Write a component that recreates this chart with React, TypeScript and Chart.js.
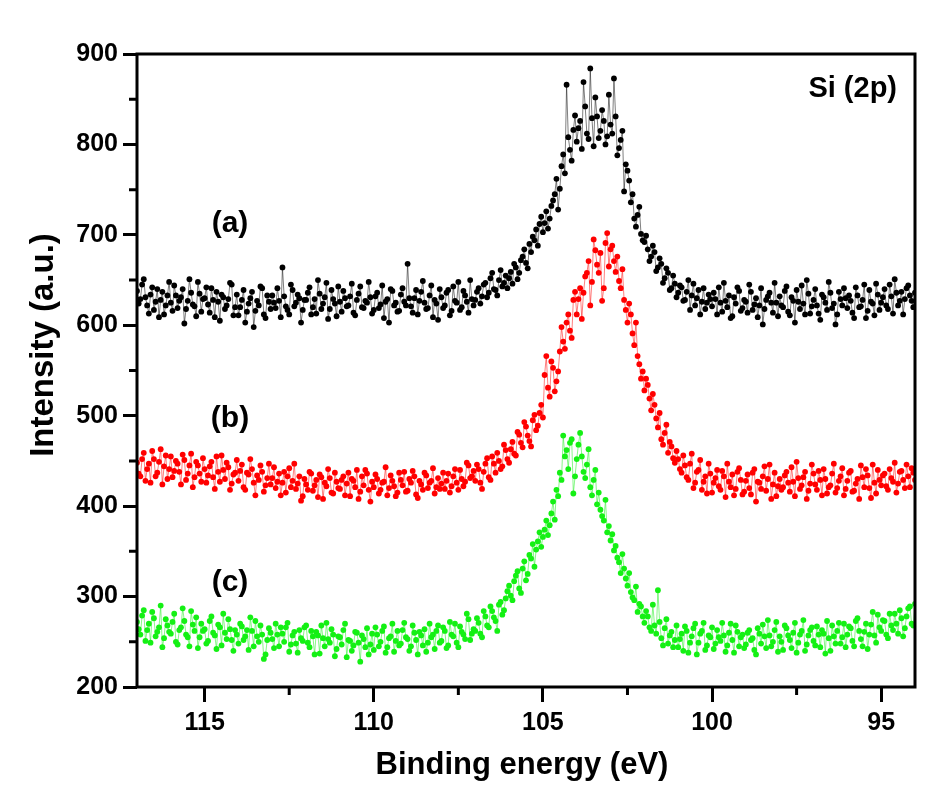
import React, { useEffect, useRef } from "react";
import { Chart, registerables } from "chart.js";

Chart.register(...registerables);

// Readings on a 0.1 eV grid (117.0 eV down to 94.0 eV, index i -> 117 - 0.1 i)
// plus readings taken half-way between them (116.95 eV down to 94.05 eV).
const ENERGY_START = 117;
const ENERGY_STEP = 0.1;
const MID_START = 116.95;

const X_TICKS = [115, 110, 105, 100, 95];
const X_MINOR = [112.5, 107.5, 102.5, 97.5];
const Y_MINOR = [250, 350, 450, 550, 650, 750, 850];

// (a) black, grid readings
const SERIES_A = [
  638, 629, 651, 622, 634, 617, 640, 628, 612, 633,
  625, 644, 619, 631, 602, 627, 636, 621, 648, 615,
  630, 623, 641, 609, 626, 634, 618, 629, 645, 620,
  611, 628, 603, 624, 637, 616, 622, 641, 608, 626,
  633, 619, 627, 664, 621, 612, 639, 625, 630, 617,
  628, 642, 620, 613, 635, 624, 647, 618, 629, 610,
  626, 638, 621, 632, 614, 628, 643, 619, 625, 631,
  617, 636, 623, 608, 629, 640, 622, 615, 634, 626,
  668, 621, 630, 612, 637, 625, 619, 644, 628, 606,
  631, 622, 639, 616, 627, 648, 620, 633, 614, 629,
  628, 641, 632, 647, 636, 658, 639, 650, 643, 655,
  652, 646, 664, 658, 676, 669, 690, 698, 706, 712,
  703, 726, 718, 738, 762, 751, 789, 866, 794, 816,
  803, 826, 869, 812, 884, 798, 831, 815, 826, 809,
  822, 873, 788, 805, 748, 771, 736, 718, 722, 701,
  692, 684, 676, 681, 664, 668, 652, 658, 641, 646,
  636, 642, 628, 650, 633, 622, 639, 626, 618, 634,
  621, 629, 642, 615, 627, 633, 610, 624, 638, 619,
  626, 645, 617, 630, 622, 601, 628, 636, 614, 625,
  632, 620, 643, 611, 627, 639, 618, 624, 650, 613,
  628, 622, 606, 631, 617, 636, 624, 612, 629, 641,
  619, 627, 608, 633, 621, 645, 616, 626, 611, 634,
  625, 640, 618, 632, 651, 622, 637, 629, 644, 627, 636,
];

// (a) black, half-step readings
const SERIES_A_MID = [
  624, 645, 631, 613, 642, 626, 609, 637, 622, 648,
  616, 633, 627, 640, 618, 651, 623, 610, 635, 629,
  642, 614, 628, 637, 605, 631, 622, 647, 611, 634,
  620, 639, 615, 630, 598, 627, 643, 612, 633, 618,
  625, 641, 609, 632, 617, 645, 621, 634, 603, 628,
  636, 612, 629, 650, 618, 631, 607, 639, 624, 643,
  615, 630, 622, 646, 611, 635, 620, 627, 648, 613,
  632, 619, 644, 626, 603, 638, 625, 616, 641, 622,
  630, 614, 639, 627, 649, 618, 633, 609, 624, 640,
  619, 636, 611, 643, 625, 617, 638, 626, 650, 622,
  637, 624, 645, 631, 652, 640, 633, 661, 647, 641,
  659, 668, 651, 672, 684, 663, 681, 694, 688, 720,
  713, 707, 732, 745, 728, 776, 768, 808, 782, 832,
  818, 795, 842, 806, 829, 852, 807, 838, 800, 855,
  812, 831, 796, 815, 778, 760, 745, 709, 731, 694,
  699, 671, 688, 660, 674, 647, 663, 639, 655, 631,
  644, 627, 637, 617, 646, 630, 612, 641, 625, 629,
  636, 612, 625, 647, 620, 608, 631, 642, 616, 628,
  614, 637, 623, 609, 641, 618, 632, 625, 647, 610,
  622, 638, 615, 631, 603, 626, 644, 612, 635, 621,
  640, 613, 634, 625, 648, 619, 601, 637, 622, 630,
  633, 614, 642, 620, 628, 608, 639, 624, 646, 617,
  631, 622, 645, 613, 636, 627, 612, 641, 633, 620,
];

// (b) red, grid readings
const SERIES_B = [
  448, 433, 459, 441, 426, 452, 437, 463, 444, 430,
  455, 439, 447, 424, 451, 436, 458, 432, 445, 427,
  441, 434, 449, 419, 438, 456, 430, 443, 425, 437,
  428, 446, 418, 435, 441, 412, 429, 438, 423, 447,
  431, 420, 436, 426, 415, 442, 428, 419, 433, 411,
  424, 438, 417, 429, 435, 408, 422, 431, 414, 427,
  419, 433, 425, 411, 428, 440, 416, 423, 436, 405,
  421, 430, 418, 427, 412, 434, 422, 415, 429, 438,
  417, 426, 433, 409, 424, 437, 420, 428, 414, 431,
  425, 419, 436, 422, 441, 418, 430, 427, 445, 433,
  428, 441, 419, 447, 432, 455, 437, 450, 444, 462,
  448, 471, 456, 479, 465, 488, 472, 495, 484, 503,
  498, 566, 521, 553, 538, 571, 582, 603, 594, 628,
  612, 641, 636, 658, 622, 695, 667, 680, 641, 702,
  684, 671, 676, 641, 628, 603, 612, 578, 566, 541,
  528, 534, 506, 512, 487, 474, 481, 459, 466, 448,
  452, 437, 445, 429, 458, 426, 440, 418, 433, 447,
  415, 431, 422, 439, 410, 427, 435, 419, 442, 413,
  428, 420, 437, 405, 426, 433, 417, 446, 424, 411,
  430, 421, 438, 416, 427, 449, 419, 432, 408, 425,
  436, 418, 429, 441, 414, 423, 447, 420, 433, 412,
  428, 439, 417, 430, 445, 421, 434, 409, 426, 440,
  423, 436, 418, 431, 448, 425, 439, 420, 433, 442, 429,
];

// (b) red, half-step readings
const SERIES_B_MID = [
  436, 452, 428, 447, 461, 433, 449, 424, 456, 441,
  432, 450, 438, 457, 429, 445, 421, 449, 436, 453,
  426, 444, 432, 455, 427, 440, 448, 418, 435, 451,
  439, 421, 437, 452, 426, 434, 445, 416, 431, 424,
  443, 427, 412, 438, 433, 421, 447, 425, 406, 430,
  418, 436, 423, 410, 432, 426, 441, 415, 437, 420,
  429, 412, 437, 430, 421, 408, 433, 440, 418, 427,
  435, 414, 426, 443, 420, 428, 411, 437, 423, 416,
  430, 439, 413, 428, 418, 434, 426, 442, 421, 419,
  437, 428, 415, 433, 426, 440, 422, 448, 431, 439,
  446, 426, 438, 453, 429, 447, 459, 441, 468, 452,
  463, 458, 482, 470, 493, 478, 466, 501, 489, 512,
  545, 531, 560, 527, 549, 598, 574, 612, 586, 637,
  629, 607, 654, 671, 648, 683, 658, 627, 691, 665,
  688, 659, 649, 662, 617, 624, 591, 603, 557, 549,
  541, 519, 524, 497, 503, 468, 490, 471, 453, 461,
  441, 456, 432, 447, 420, 438, 451, 427, 414, 436,
  426, 440, 418, 433, 447, 421, 412, 438, 429, 416,
  435, 413, 441, 427, 419, 444, 430, 408, 437, 422,
  418, 434, 426, 443, 411, 431, 423, 438, 417, 446,
  424, 439, 412, 430, 421, 436, 415, 428, 442, 419,
  437, 416, 425, 408, 432, 441, 420, 446, 414, 429,
  434, 422, 441, 427, 415, 438, 429, 446, 421, 437,
];

// (c) green, grid readings
const SERIES_C = [
  272, 258, 285, 263, 249, 276, 261, 290, 254, 268,
  259, 281, 247, 266, 273, 255, 284, 262, 243, 270,
  264, 251, 278, 257, 269, 246, 260, 275, 252, 263,
  248, 267, 256, 241, 262, 273, 250, 258, 236, 265,
  253, 270, 245, 259, 266, 239, 257, 248, 263, 251,
  268, 244, 256, 261, 237, 254, 271, 249, 258, 242,
  255, 263, 233, 251, 246, 260, 228, 253, 265, 247,
  241, 258, 250, 267, 244, 256, 239, 262, 248, 271,
  253, 245, 260, 236, 257, 264, 249, 255, 242, 268,
  251, 262, 246, 258, 270, 244, 261, 253, 275, 259,
  262, 271, 255, 278, 266, 284, 273, 291, 280, 298,
  312, 296, 323, 309, 331, 318, 346, 358, 352, 371,
  366, 384, 379, 405, 418, 437, 478, 462, 470, 414,
  452, 481, 438, 446, 421, 429, 402, 396, 384, 371,
  362, 351, 343, 326, 331, 312, 305, 296, 283, 289,
  271, 278, 262, 268, 307, 254, 265, 248, 261, 252,
  244, 259, 267, 238, 256, 270, 249, 262, 241, 257,
  266, 248, 255, 271, 239, 260, 252, 268, 245, 258,
  247, 263, 254, 236, 259, 269, 243, 257, 250, 272,
  256, 241, 265, 252, 260, 238, 258, 274, 247, 263,
  251, 267, 244, 259, 273, 240, 256, 262, 248, 270,
  258, 265, 245, 276, 253, 261, 242, 269, 257, 280,
  262, 273, 254, 268, 281, 259, 276, 265, 287, 270, 292,
];

// (c) green, half-step readings
const SERIES_C_MID = [
  264, 279, 251, 270, 283, 256, 266, 244, 275, 261,
  272, 250, 263, 287, 258, 245, 269, 277, 255, 262,
  248, 273, 260, 242, 266, 281, 253, 264, 240, 258,
  270, 252, 263, 277, 245, 256, 268, 231, 252, 260,
  243, 258, 266, 250, 271, 247, 261, 238, 254, 266,
  249, 262, 236, 257, 268, 245, 253, 264, 234, 256,
  247, 270, 252, 240, 261, 249, 257, 244, 236, 259,
  266, 245, 262, 238, 254, 270, 251, 246, 263, 255,
  240, 268, 252, 261, 246, 239, 270, 258, 262, 249,
  266, 243, 272, 256, 249, 267, 258, 281, 252, 264,
  276, 259, 284, 268, 289, 277, 262, 294, 285, 306,
  301, 317, 328, 304, 339, 325, 342, 333, 361, 355,
  374, 368, 392, 385, 411, 429, 455, 441, 474, 433,
  468, 455, 431, 463, 412, 440, 415, 389, 407, 378,
  369, 356, 338, 347, 320, 326, 299, 311, 292, 278,
  284, 266, 291, 259, 272, 246, 275, 257, 244, 268,
  253, 240, 262, 249, 265, 236, 259, 271, 246, 255,
  242, 263, 251, 257, 246, 270, 238, 261, 255, 243,
  260, 252, 241, 265, 248, 256, 274, 245, 263, 239,
  250, 268, 257, 243, 271, 249, 262, 240, 257, 266,
  246, 258, 263, 237, 254, 268, 248, 271, 255, 244,
  267, 251, 273, 262, 245, 270, 258, 283, 249, 266,
  274, 258, 281, 263, 270, 285, 256, 278, 289, 268,
];

const SERIES_LABELS = ["(a)", "(b)", "(c)"];
const PANEL_LABEL = "Si (2p)";
const X_TITLE = "Binding energy (eV)";
const Y_TITLE = "Intensity (a.u.)";

const FONT = '"Liberation Sans", Arial, Helvetica, sans-serif';

function toPoints(grid: number[], mid: number[]) {
  const pts: { x: number; y: number }[] = [];
  grid.forEach((v, i) => {
    pts.push({ x: Math.round((ENERGY_START - i * ENERGY_STEP) * 100) / 100, y: v });
  });
  mid.forEach((v, i) => {
    pts.push({ x: Math.round((MID_START - i * ENERGY_STEP) * 100) / 100, y: v });
  });
  pts.sort((a, b) => b.x - a.x);
  return pts;
}

const decorPlugin = {
  id: "decor",
  afterDraw(chart: any) {
    const { ctx, chartArea, scales } = chart;
    const { left, right, top, bottom } = chartArea;
    const xs = scales.x;
    const ys = scales.y;
    ctx.save();
    ctx.strokeStyle = "#000";
    ctx.lineWidth = 3;
    ctx.strokeRect(left, top, right - left, bottom - top);
    // minor ticks
    ctx.beginPath();
    for (const v of Y_MINOR) {
      const py = ys.getPixelForValue(v);
      ctx.moveTo(left - 8, py);
      ctx.lineTo(left, py);
    }
    for (const v of X_MINOR) {
      const px = xs.getPixelForValue(v);
      ctx.moveTo(px, bottom);
      ctx.lineTo(px, bottom + 8);
    }
    ctx.stroke();

    ctx.fillStyle = "#000";
    // axis titles
    ctx.textAlign = "center";
    ctx.textBaseline = "middle";
    ctx.font = `bold 31px ${FONT}`;
    ctx.fillText(X_TITLE, 522, 765);
    ctx.save();
    ctx.font = `bold 33px ${FONT}`;
    ctx.translate(44, 345);
    ctx.rotate(-Math.PI / 2);
    ctx.fillText(Y_TITLE, 0, 0);
    ctx.restore();

    // annotations
    ctx.font = `bold 30px ${FONT}`;
    ctx.textAlign = "center";
    ctx.fillText(SERIES_LABELS[0], 230, 224);
    ctx.fillText(SERIES_LABELS[1], 230, 419);
    ctx.fillText(SERIES_LABELS[2], 230, 583);
    ctx.font = `bold 29px ${FONT}`;
    ctx.textAlign = "right";
    ctx.fillText(PANEL_LABEL, 897, 89);
    ctx.restore();
  },
};

export default function App() {
  const canvasRef = useRef<HTMLCanvasElement | null>(null);

  useEffect(() => {
    if (!canvasRef.current) return;
    const mk = (grid: number[], mid: number[], color: string, line: string) => ({
      data: toPoints(grid, mid),
      borderColor: line,
      borderWidth: 1,
      pointRadius: 2.9,
      pointBackgroundColor: color,
      pointBorderColor: color,
      pointBorderWidth: 0,
      tension: 0,
      fill: false,
    });
    const tickFont = { family: FONT, weight: "bold" as const, size: 25 };
    const chart = new Chart(canvasRef.current, {
      type: "line",
      data: {
        datasets: [
          mk(SERIES_A, SERIES_A_MID, "#000000", "rgba(0,0,0,0.5)"),
          mk(SERIES_B, SERIES_B_MID, "#ff0000", "rgba(255,0,0,0.5)"),
          mk(SERIES_C, SERIES_C_MID, "#14f014", "rgba(20,240,20,0.5)"),
        ] as any,
      },
      options: {
        animation: false,
        responsive: false,
        maintainAspectRatio: false,
        layout: { padding: { left: 0, top: 54, right: 12, bottom: 0 } },
        plugins: { legend: { display: false }, tooltip: { enabled: false } },
        scales: {
          x: {
            type: "linear",
            min: 94,
            max: 117,
            reverse: true,
            afterBuildTicks: (scale: any) => {
              scale.ticks = X_TICKS.map((v) => ({ value: v }));
            },
            afterFit: (scale: any) => {
              scale.height = 102;
            },
            border: { display: false },
            grid: {
              drawOnChartArea: false,
              drawTicks: true,
              tickLength: 15,
              tickWidth: 3,
              tickColor: "#000",
            },
            ticks: {
              font: tickFont,
              color: "#000",
              padding: 6,
              maxRotation: 0,
              autoSkip: false,
            },
          },
          y: {
            type: "linear",
            min: 200,
            max: 900,
            afterFit: (scale: any) => {
              scale.width = 137;
            },
            border: { display: false },
            grid: {
              drawOnChartArea: false,
              drawTicks: true,
              tickLength: 14,
              tickWidth: 3,
              tickColor: "#000",
            },
            ticks: {
              stepSize: 100,
              font: tickFont,
              color: "#000",
              padding: 5,
            },
          },
        },
      },
      plugins: [decorPlugin],
    });
    return () => chart.destroy();
  }, []);

  return (
    <div style={{ position: "absolute", left: 0, top: 0, width: 927, height: 789, background: "#fff" }}>
      <canvas ref={canvasRef} width={927} height={789} />
    </div>
  );
}
